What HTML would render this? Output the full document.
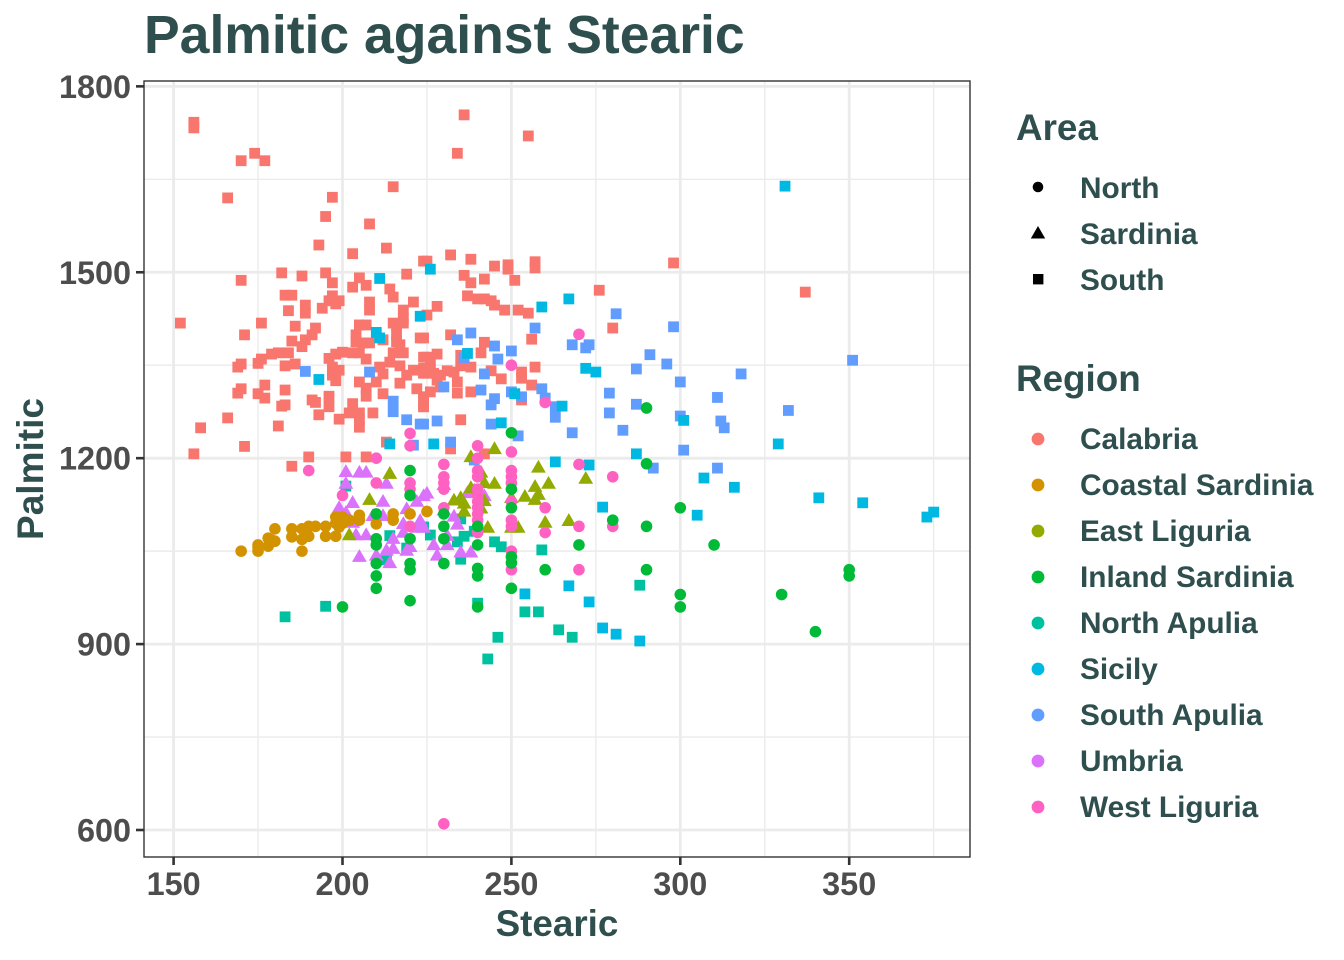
<!DOCTYPE html>
<html>
<head>
<meta charset="utf-8">
<title>Palmitic against Stearic</title>
<style>
html,body{margin:0;padding:0;background:#fff;}
svg{display:block;font-family:"Liberation Sans",Arial,sans-serif;font-weight:bold;}
</style>
</head>
<body>
<svg id="chart" width="1344" height="960" viewBox="0 0 1344 960" xmlns="http://www.w3.org/2000/svg">
<rect width="1344" height="960" fill="#fff"/>
<g id="grid"></g>
<g id="marks"></g>
<rect x="144" y="81" width="826" height="776" fill="none" stroke="#333" stroke-width="1.4"/>
<g id="axes"></g>
<text x="144" y="53" font-size="53.5" fill="#2F4F4F">Palmitic against Stearic</text>
<text x="557" y="936" font-size="36.8" text-anchor="middle" fill="#2F4F4F">Stearic</text>
<text transform="translate(43,469) rotate(-90)" font-size="37" text-anchor="middle" fill="#2F4F4F">Palmitic</text>
<g fill="#2F4F4F">
<text x="1016" y="140" font-size="36.8">Area</text>
<circle cx="1038" cy="187" r="5.3" fill="#000"/>
<text x="1080" y="198" font-size="29.8">North</text>
<polygon points="1038,226 1045.2,238.5 1030.8,238.5" fill="#000"/>
<text x="1080" y="244" font-size="29.8">Sardinia</text>
<rect x="1033" y="274" width="10.4" height="10.4" fill="#000"/>
<text x="1080" y="290" font-size="29.8">South</text>
</g>
<g fill="#2F4F4F">
<text x="1016" y="391" font-size="36.8">Region</text>
<circle cx="1038" cy="439" r="6.4" fill="#F8766D"/>
<text x="1080" y="449" font-size="29.8">Calabria</text>
<circle cx="1038" cy="485" r="6.4" fill="#D39200"/>
<text x="1080" y="495" font-size="29.8">Coastal Sardinia</text>
<circle cx="1038" cy="531" r="6.4" fill="#93AA00"/>
<text x="1080" y="541" font-size="29.8">East Liguria</text>
<circle cx="1038" cy="577" r="6.4" fill="#00BA38"/>
<text x="1080" y="587" font-size="29.8">Inland Sardinia</text>
<circle cx="1038" cy="623" r="6.4" fill="#00C19F"/>
<text x="1080" y="633" font-size="29.8">North Apulia</text>
<circle cx="1038" cy="669" r="6.4" fill="#00B9E3"/>
<text x="1080" y="679" font-size="29.8">Sicily</text>
<circle cx="1038" cy="715" r="6.4" fill="#619CFF"/>
<text x="1080" y="725" font-size="29.8">South Apulia</text>
<circle cx="1038" cy="761" r="6.4" fill="#DB72FB"/>
<text x="1080" y="771" font-size="29.8">Umbria</text>
<circle cx="1038" cy="807" r="6.4" fill="#FF61C3"/>
<text x="1080" y="817" font-size="29.8">West Liguria</text>
</g>
</svg>
<script>
const xTicks = [150,200,250,300,350];
const xMinorTicks = [175,225,275,325,375];
const yTicks = [600,900,1200,1500,1800];
const yMinorTicks = [750,1050,1350,1650];

const northApulia = [[195,961],[183,944],[201,1155],[214,1075],[219,1055],[213,1036],[246,911],[243,876],[264,923],[268,911],[254,952],[258,952],[288,995],[259,1052],[245,1065],[247,1057],[235,1037],[236,1074],[234,1065],[226,1076],[235,1102],[239,1082],[224,1089],[240,966]];
const calabria = [[156,1742],[156,1733],[170,1680],[174,1692],[177,1680],[166,1620],[197,1621],[215,1638],[195,1590],[208,1578],[193,1544],[213,1539],[203,1530],[224,1518],[182,1499],[188,1494],[195,1499],[170,1487],[197,1483],[205,1491],[207,1479],[219,1497],[203,1476],[214,1473],[215,1460],[221,1452],[183,1463],[185,1463],[189,1447],[189,1434],[184,1438],[194,1442],[197,1462],[196,1454],[199,1454],[198,1449],[208,1452],[208,1439],[218,1439],[218,1426],[152,1418],[176,1418],[186,1413],[171,1399],[192,1410],[191,1399],[185,1389],[189,1391],[188,1380],[205,1415],[207,1415],[204,1399],[204,1388],[206,1386],[208,1386],[212,1391],[216,1415],[216,1399],[216,1388],[217,1383],[215,1418],[218,1418],[223,1394],[215,1370],[218,1370],[224,1363],[184,1370],[181,1370],[179,1368],[176,1360],[175,1353],[170,1352],[169,1347],[183,1349],[186,1352],[196,1361],[198,1368],[200,1371],[203,1370],[205,1370],[207,1360],[197,1347],[199,1342],[197,1334],[198,1325],[205,1323],[210,1323],[207,1313],[207,1300],[211,1347],[214,1355],[217,1349],[212,1336],[219,1334],[221,1342],[224,1339],[217,1321],[222,1312],[212,1304],[224,1299],[224,1283],[170,1312],[169,1305],[177,1318],[175,1304],[177,1297],[183,1310],[182,1284],[183,1286],[191,1294],[192,1290],[196,1300],[196,1283],[193,1270],[199,1263],[203,1288],[202,1273],[205,1273],[205,1262],[205,1250],[209,1273],[166,1265],[158,1249],[181,1252],[171,1219],[156,1207],[213,1226],[190,1202],[201,1202],[207,1202],[185,1187],[225,1518],[232,1528],[238,1521],[245,1510],[249,1512],[249,1505],[257,1517],[257,1507],[236,1495],[238,1483],[242,1489],[251,1487],[237,1462],[240,1457],[242,1457],[244,1454],[245,1447],[248,1439],[252,1439],[255,1434],[228,1445],[225,1431],[276,1471],[298,1515],[280,1410],[232,1399],[256,1392],[242,1387],[241,1370],[224,1394],[235,1366],[225,1363],[228,1368],[226,1355],[226,1345],[224,1345],[224,1337],[227,1337],[231,1341],[233,1339],[235,1349],[238,1347],[244,1341],[229,1334],[234,1323],[228,1326],[247,1328],[253,1339],[253,1329],[257,1347],[256,1318],[229,1315],[226,1307],[234,1305],[238,1307],[224,1299],[224,1283],[235,1262],[232,1215],[253,1294],[242,1207],[255,1720],[236,1754],[234,1692],[337,1468]];
const southApulia = [[189,1340],[208,1339],[215,1292],[215,1275],[219,1262],[223,1255],[221,1221],[234,1391],[238,1402],[245,1381],[250,1373],[257,1410],[246,1360],[236,1362],[242,1336],[241,1310],[245,1296],[244,1286],[250,1307],[253,1299],[244,1255],[252,1236],[228,1260],[224,1255],[232,1226],[239,1197],[230,1315],[259,1312],[260,1297],[263,1283],[263,1266],[268,1383],[272,1378],[273,1383],[281,1433],[298,1412],[291,1367],[287,1344],[296,1352],[300,1323],[279,1305],[287,1287],[279,1273],[300,1268],[283,1245],[268,1241],[301,1213],[292,1184],[311,1298],[318,1336],[312,1260],[313,1249],[311,1184],[351,1358],[332,1277]];
const sicily = [[211,1490],[223,1429],[210,1403],[211,1394],[193,1327],[214,1223],[226,1505],[259,1444],[267,1457],[237,1369],[272,1345],[275,1339],[251,1304],[265,1284],[247,1257],[227,1223],[301,1261],[287,1207],[263,1194],[273,1189],[277,1121],[254,981],[267,994],[273,968],[277,926],[281,916],[288,905],[331,1639],[329,1223],[316,1153],[307,1168],[305,1108],[341,1136],[354,1128],[373,1105],[375,1113]];
const umbria = [[201,1179],[205,1178],[207,1178],[201,1160],[213,1160],[203,1129],[199,1121],[212,1131],[222,1131],[224,1140],[219,1119],[201,1113],[203,1097],[209,1108],[212,1108],[218,1095],[223,1097],[222,1089],[204,1077],[207,1077],[215,1071],[218,1081],[205,1042],[210,1044],[213,1052],[215,1055],[214,1032],[219,1052],[220,1058],[225,1144],[233,1107],[230,1117],[234,1094],[223,1100],[224,1089],[231,1076],[231,1061],[227,1061],[228,1044],[235,1049],[238,1049],[239,1149],[242,1140],[237,1145],[230,1158]];
const coastalSardinia = [[170,1050],[175,1060],[175,1050],[175,1056],[178,1071],[178,1058],[180,1086],[180,1066],[179,1068],[185,1086],[185,1073],[188,1050],[188,1086],[188,1069],[190,1090],[190,1074],[192,1090],[195,1090],[195,1074],[198,1074],[198,1105],[198,1095],[200,1105],[200,1095],[199,1089],[202,1100],[205,1108],[205,1100],[210,1094],[215,1110],[215,1100],[220,1110],[225,1114]];
const eastLiguria = [[245,1216],[238,1203],[258,1186],[272,1168],[261,1160],[257,1155],[245,1160],[242,1161],[241,1178],[238,1153],[254,1139],[258,1142],[257,1134],[250,1137],[233,1133],[235,1137],[236,1128],[236,1115],[242,1132],[241,1120],[260,1097],[267,1100],[252,1089],[250,1089],[243,1089],[214,1176],[208,1134],[202,1077]];
const westLiguria = [[270,1400],[250,1350],[260,1290],[240,1220],[250,1210],[240,1200],[230,1190],[230,1170],[270,1190],[280,1170],[250,1180],[250,1170],[240,1180],[240,1170],[220,1240],[220,1220],[210,1200],[190,1180],[200,1140],[210,1160],[220,1160],[220,1150],[220,1090],[230,1160],[230,1150],[230,1120],[240,1150],[240,1140],[240,1130],[240,1120],[240,1110],[240,1100],[240,1080],[250,1160],[250,1130],[250,1100],[250,1090],[250,1050],[250,1020],[260,1120],[260,1080],[270,1090],[270,1020],[280,1090],[230,610]];
const inlandSardinia = [[290,1191],[290,1090],[280,1100],[270,1060],[290,1020],[260,1020],[250,990],[250,1041],[250,1031],[240,1022],[240,1010],[240,960],[240,1060],[240,1090],[230,1030],[230,1070],[230,1090],[230,1110],[250,1150],[250,1120],[250,1241],[290,1281],[200,960],[210,1110],[210,1070],[210,1060],[210,1030],[210,1010],[210,990],[220,1180],[220,1140],[220,1070],[220,1030],[220,1020],[220,970],[300,1120],[300,980],[300,960],[310,1060],[330,980],[340,920],[350,1020],[350,1010]];

const NS = 'http://www.w3.org/2000/svg';
const xScale = v => 173.6 + (v - 150) * 3.378;
const yScale = v => 830 - (v - 600) * 0.6197;

const gridGroup = document.getElementById('grid');
const axesGroup = document.getElementById('axes');
const marksGroup = document.getElementById('marks');

function line(parent, x1, y1, x2, y2, stroke, width) {
  const el = document.createElementNS(NS, 'line');
  el.setAttribute('x1', x1);
  el.setAttribute('y1', y1);
  el.setAttribute('x2', x2);
  el.setAttribute('y2', y2);
  el.setAttribute('stroke', stroke);
  el.setAttribute('stroke-width', width);
  parent.appendChild(el);
  return el;
}

function label(x, y, str, anchor) {
  const el = document.createElementNS(NS, 'text');
  el.setAttribute('x', x);
  el.setAttribute('y', y);
  el.setAttribute('font-size', '32.4');
  el.setAttribute('fill', '#4D4D4D');
  el.setAttribute('text-anchor', anchor);
  el.textContent = str;
  axesGroup.appendChild(el);
  return el;
}

xMinorTicks.forEach(v => {
  const el = line(gridGroup, xScale(v), 81, xScale(v), 857, '#EBEBEB', 1.4);
  
  
});
yMinorTicks.forEach(v => {
  const el = line(gridGroup, 144, yScale(v), 970, yScale(v), '#EBEBEB', 1.4);
  
  
});
xTicks.forEach(v => {
  const el = line(gridGroup, xScale(v), 81, xScale(v), 857, '#EBEBEB', 2.8);
  
  
  const tick = line(axesGroup, xScale(v), 857, xScale(v), 865, '#333', 2.6);
  
  
  const text = label(xScale(v), 895, v, 'middle');
  
  
});
yTicks.forEach(v => {
  const el = line(gridGroup, 144, yScale(v), 970, yScale(v), '#EBEBEB', 2.8);
  
  
  const tick = line(axesGroup, 136, yScale(v), 144, yScale(v), '#333', 2.6);
  
  
  const text = label(131, yScale(v) + 11.5, v, 'end');
  
  
});

function drawSquares(points, color, name) {
  points.forEach(p => {
    const el = document.createElementNS(NS, 'rect');
    el.setAttribute('x', xScale(p[0]) - 5.4);
    el.setAttribute('y', yScale(p[1]) - 5.4);
    el.setAttribute('width', 10.8);
    el.setAttribute('height', 10.8);
    el.setAttribute('fill', color);
    
    
    marksGroup.appendChild(el);
  });
}
function drawCircles(points, color, name) {
  points.forEach(p => {
    const el = document.createElementNS(NS, 'circle');
    el.setAttribute('cx', xScale(p[0]));
    el.setAttribute('cy', yScale(p[1]));
    el.setAttribute('r', 5.8);
    el.setAttribute('fill', color);
    
    
    marksGroup.appendChild(el);
  });
}
function drawTriangles(points, color, name) {
  points.forEach(p => {
    const cx = xScale(p[0]);
    const cy = yScale(p[1]);
    const el = document.createElementNS(NS, 'polygon');
    el.setAttribute('points', cx + ',' + (cy - 7) + ' ' + (cx + 7.4) + ',' + (cy + 5.8) + ' ' + (cx - 7.4) + ',' + (cy + 5.8));
    el.setAttribute('fill', color);
    
    
    marksGroup.appendChild(el);
  });
}

drawSquares(northApulia, '#00C19F', 'point-north-apulia');
drawSquares(calabria, '#F8766D', 'point-calabria');
drawSquares(southApulia, '#619CFF', 'point-south-apulia');
drawSquares(sicily, '#00B9E3', 'point-sicily');
drawTriangles(umbria, '#DB72FB', 'point-umbria');
drawCircles(coastalSardinia, '#D39200', 'point-coastal-sardinia');
drawTriangles(eastLiguria, '#93AA00', 'point-east-liguria');
drawCircles(westLiguria, '#FF61C3', 'point-west-liguria');
drawCircles(inlandSardinia, '#00BA38', 'point-inland-sardinia');
</script>
</body>
</html>
